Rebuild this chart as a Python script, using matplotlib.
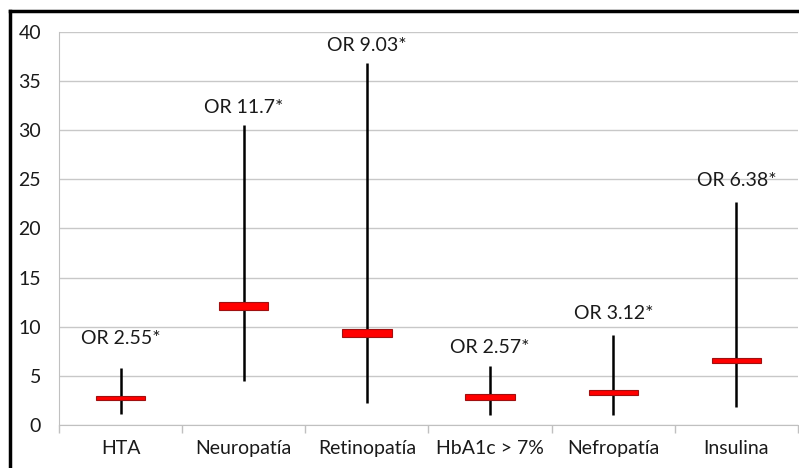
import matplotlib
matplotlib.use('Agg')
import matplotlib.pyplot as plt
from matplotlib.lines import Line2D
from matplotlib.patches import Rectangle

plt.rcParams['font.family'] = ['Lato', 'DejaVu Sans']

# categories and OR intervals
categories = ['HTA', 'Neuropatía', 'Retinopatía', 'HbA1c > 7%', 'Nefropatía', 'Insulina']
ci_low = [1.1, 4.5, 2.2, 1.0, 1.0, 1.8]
ci_high = [5.8, 30.5, 36.8, 6.0, 9.2, 22.7]
box_low = [2.5, 11.7, 9.0, 2.5, 3.05, 6.3]
box_high = [3.0, 12.5, 9.8, 3.15, 3.55, 6.8]
or_labels = ['OR 2.55*', 'OR 11.7*', 'OR 9.03*', 'OR 2.57*', 'OR 3.12*', 'OR 6.38*']
label_gap = [30, 18, 18, 19, 21, 21]  # pixels above the whisker

fig = plt.figure(figsize=(7.99, 4.68), dpi=100)
ax = fig.add_axes([59 / 799, 1 - 425 / 468, 739 / 799, 393 / 468])

box_w = 0.4
for i in range(len(categories)):
    ax.plot([i, i], [ci_low[i], ci_high[i]], color='black', lw=1.8, zorder=2, solid_capstyle='butt')
    ax.add_patch(Rectangle((i - box_w / 2, box_low[i]), box_w, box_high[i] - box_low[i],
                           facecolor='#ff0000', edgecolor='#a01010', lw=0.8, zorder=3))
    ax.annotate(or_labels[i], (i, ci_high[i]), xytext=(0, label_gap[i] * 0.72),
                textcoords='offset points', ha='center', va='center', fontsize=14,
                color='#1a1a1a')

ax.set_xlim(-0.5, len(categories) - 0.5)
ax.set_ylim(0, 40)
ax.set_yticks(range(0, 41, 5))
ax.yaxis.grid(True, color='#c8c8c8', lw=1)
ax.set_axisbelow(True)

ax.set_xticks(range(len(categories)))
ax.set_xticklabels(categories, fontsize=14, color='#1a1a1a')
ax.set_xticks([x - 0.5 for x in range(len(categories) + 1)], minor=True)
ax.tick_params(axis='x', which='major', length=0, pad=11)
ax.tick_params(axis='x', which='minor', length=6, color='#c0c0c0', width=1)
ax.tick_params(axis='y', length=0, pad=13, labelsize=14, labelcolor='#1a1a1a')

for s in ['top', 'right']:
    ax.spines[s].set_visible(False)
ax.spines['left'].set_color('#c0c0c0')
ax.spines['bottom'].set_color('#c0c0c0')

# outer chart frame (only top and left edges are in the picture)
fig.add_artist(Line2D([10 / 799, 1], [1 - 11 / 468, 1 - 11 / 468], color='black', lw=2.5,
                      transform=fig.transFigure))
fig.add_artist(Line2D([10 / 799, 10 / 799], [0, 1 - 11 / 468], color='black', lw=2.5,
                      transform=fig.transFigure))

fig.savefig('out.png', dpi=100)
